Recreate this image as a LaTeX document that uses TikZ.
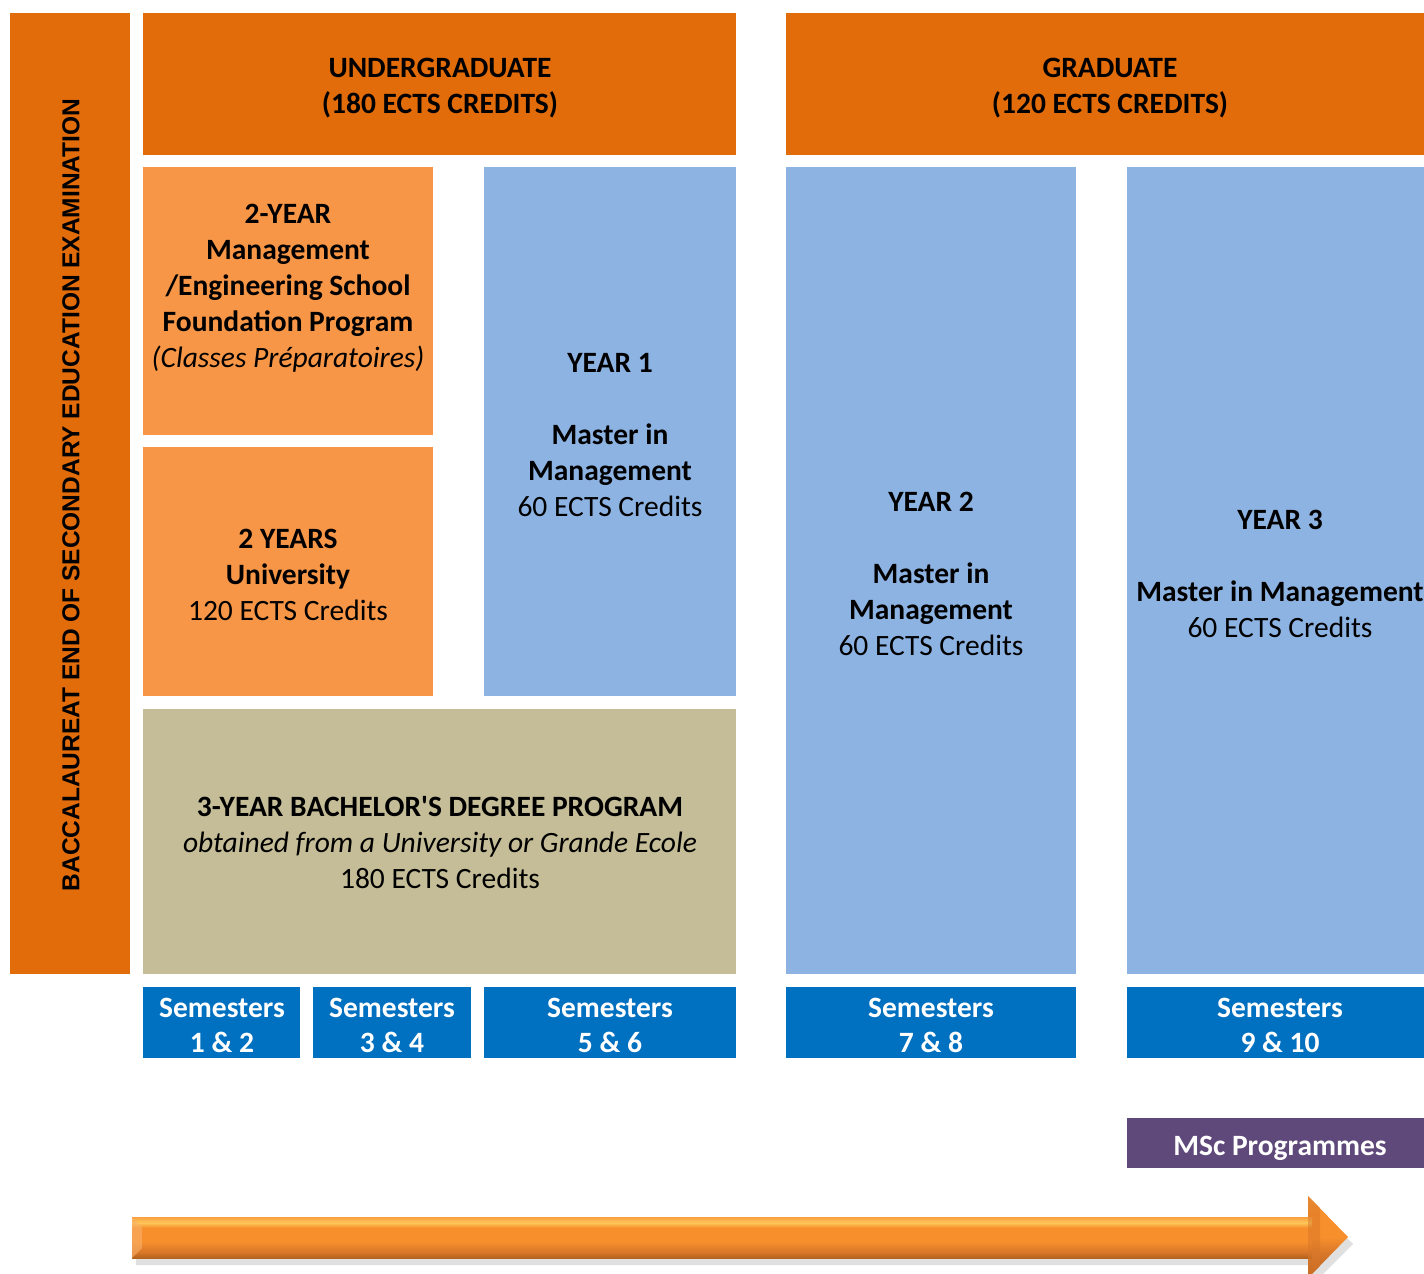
\documentclass[tikz,border=0pt]{standalone}
\usepackage{fontspec}
\setmainfont{Carlito}
\newfontfamily\arialfont{Liberation Sans}
\usetikzlibrary{positioning}
\definecolor{dkorange}{HTML}{E36C0A}
\definecolor{ltorange}{HTML}{F79646}
\definecolor{ltblue}{HTML}{8DB3E2}
\definecolor{tan}{HTML}{C4BD97}
\definecolor{semblue}{HTML}{0070C0}
\definecolor{mscpurple}{HTML}{5F497A}
\definecolor{ashB}{HTML}{B5621C}
\definecolor{ashD}{HTML}{D8772A}
\definecolor{ashM}{HTML}{F78F2C}
\definecolor{ashH}{HTML}{FFC75A}
\definecolor{ashT}{HTML}{F7A040}
\pgfdeclareverticalshading{shaftshade}{100bp}{color(0bp)=(ashB); color(25bp)=(ashB); color(32bp)=(ashD); color(45bp)=(ashM); color(62bp)=(ashM); color(68bp)=(ashH); color(75bp)=(ashT); color(100bp)=(ashT)}
\pgfdeclareverticalshading{headshade}{100bp}{color(0bp)=(ashB); color(25bp)=(ashB); color(40bp)=(ashD); color(50bp)=(ashM); color(65bp)=(ashM); color(75bp)=(ashT); color(100bp)=(ashT)}
\tikzset{
  box/.style={anchor=north west, inner sep=0pt, outer sep=0pt, draw=none},
  txt/.style={align=center, inner sep=0pt, font=\fontsize{29.5}{36}\selectfont},
  btxt/.style={txt, font=\fontsize{29.5}{36}\selectfont\bfseries},
  wtxt/.style={txt, text=white, font=\fontsize{29.5}{35}\selectfont\bfseries},
}
\newcommand{\boxat}[6]{\node[box, fill=#6, minimum width=#4pt-#2pt, minimum height=#5pt-#3pt] (#1) at (#2,#3) {};}
\newcommand{\sq}{{\addfontfeature{Ligatures=TeXOff}'}}
\begin{document}
\begin{tikzpicture}[x=1pt,y=-1pt]
\useasboundingbox (0,0) rectangle (1424,1274);
\clip (0,0) rectangle (1424,1274);
% boxes
\boxat{bac}{10}{13}{130}{974}{dkorange}
\boxat{ug}{143}{13}{736}{155}{dkorange}
\boxat{gr}{786}{13}{1440}{155}{dkorange}
\boxat{prep}{143}{167}{433}{435}{ltorange}
\boxat{uni}{143}{447}{433}{696}{ltorange}
\boxat{y1}{484}{167}{736}{696}{ltblue}
\boxat{bach}{143}{709}{736}{974}{tan}
\boxat{y2}{786}{167}{1076}{974}{ltblue}
\boxat{y3}{1127}{167}{1440}{974}{ltblue}
\boxat{s12}{143}{987}{300}{1058}{semblue}
\boxat{s34}{313}{987}{471}{1058}{semblue}
\boxat{s56}{484}{987}{736}{1058}{semblue}
\boxat{s78}{786}{987}{1076}{1058}{semblue}
\boxat{s910}{1127}{987}{1440}{1058}{semblue}
\boxat{msc}{1127}{1118}{1440}{1168}{mscpurple}
% texts
\node[rotate=90, inner sep=0pt, font=\arialfont\fontsize{24.5}{30}\selectfont\bfseries] (bactxt) at (71,495) {BACCALAUREAT END OF SECONDARY EDUCATION EXAMINATION};
\node[btxt] (ugtxt) at (440,88) {UNDERGRADUATE\\(180 ECTS CREDITS)};
\node[btxt] (grtxt) at (1110,88) {GRADUATE\\(120 ECTS CREDITS)};
\node[txt] (preptxt) at (288,288) {\bfseries 2-YEAR\\\bfseries Management\\\bfseries /Engineering School\\\bfseries Foundation Program\\\itshape (Classes Préparatoires)};
\node[txt] (unitxt) at (288,575) {\bfseries 2 YEARS\\\bfseries University\\120 ECTS Credits};
\node[txt] (y1txt) at (610,435) {\bfseries YEAR 1\\\strut\\\bfseries Master in\\\bfseries Management\\60 ECTS Credits};
\node[txt] (bachtxt) at (440,843) {\bfseries 3-YEAR BACHELOR\sq S DEGREE PROGRAM\\\itshape obtained from a University or Grande Ecole\\180 ECTS Credits};
\node[txt] (y2txt) at (931,574) {\bfseries YEAR 2\\\strut\\\bfseries Master in\\\bfseries Management\\60 ECTS Credits};
\node[txt] (y3txt) at (1280,574) {\bfseries YEAR 3\\\strut\\\bfseries Master in Management\\60 ECTS Credits};
\node[wtxt] (s12t) at (222,1025) {Semesters\\1 \& 2};
\node[wtxt] (s34t) at (392,1025) {Semesters\\3 \& 4};
\node[wtxt] (s56t) at (610,1025) {Semesters\\5 \& 6};
\node[wtxt] (s78t) at (931,1025) {Semesters\\7 \& 8};
\node[wtxt] (s910t) at (1280,1025) {Semesters\\9 \& 10};
\node[wtxt] (msct) at (1280,1148) {MSc Programmes};
% arrow
\fill[black, opacity=0.12] (136,1224) -- (1312,1224) -- (1312,1203) -- (1353,1244) -- (1312,1285) -- (1312,1265) -- (136,1265) -- cycle;
\shade[shading=shaftshade] (132,1217) rectangle (1309,1258);
\shade[shading=headshade] (1308,1196) -- (1348,1237) -- (1308,1278) -- cycle;
\shade[shading=shaftshade] (1307,1217) rectangle (1312,1258);
\fill[ashM!70!white, opacity=0.6] (132,1217) -- (142,1227) -- (142,1248) -- (132,1258) -- cycle;
\fill[ashD, opacity=0.5] (1308,1196) -- (1320,1208) -- (1320,1266) -- (1308,1278) -- cycle;
\end{tikzpicture}
\end{document}
